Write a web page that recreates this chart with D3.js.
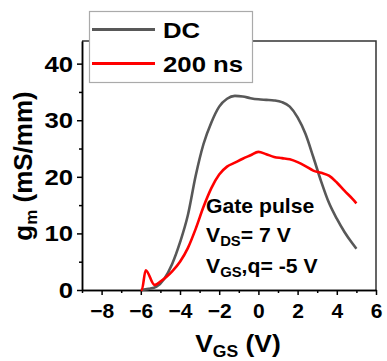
<!DOCTYPE html>
<html>
<head>
<meta charset="utf-8">
<script src="https://cdn.jsdelivr.net/npm/d3@7"></script>
<style>
  body { margin: 0; background: #fff; }
  text { font-family: "Liberation Sans", Arial, sans-serif; font-weight: bold; }
</style>
</head>
<body>
<div class="canva"></div>
<script>
// gm vs VGS, DC and 200 ns gate pulse
var vgsDC = [-6, -5.6, -5.2, -4.8, -4.4, -4.0, -3.6, -3.2, -2.8, -2.4, -2.0, -1.6, -1.2, -0.8, -0.4, 0, 0.4, 0.8, 1.2, 1.6, 2.0, 2.4, 2.8, 3.2, 3.6, 4.0, 4.4, 4.8, 5.0];
var gmDC = [0, 0.2, 0.6, 2.0, 4.6, 8.4, 13.2, 20.2, 25.8, 29.6, 32.4, 33.8, 34.3, 34.2, 33.9, 33.7, 33.6, 33.5, 33.2, 32.4, 30.5, 27.6, 23.5, 19.2, 15.4, 12.6, 10.2, 8.2, 7.3];

var vgsPulse = [-6, -5.95, -5.75, -5.3, -5.0, -4.7, -4.4, -4.0, -3.6, -3.2, -2.8, -2.4, -2.0, -1.6, -1.2, -0.8, -0.4, 0, 0.4, 0.8, 1.2, 1.6, 2.0, 2.4, 2.8, 3.2, 3.6, 4.0, 4.4, 4.8, 5.0];
var gmPulse = [0, 0, 3.5, 0.9, 1.5, 2.3, 3.3, 5.0, 7.4, 10.8, 14.7, 18.0, 20.4, 21.8, 22.5, 23.2, 23.8, 24.4, 24.0, 23.5, 23.3, 23.1, 22.6, 21.9, 21.1, 20.7, 20.2, 19.0, 17.5, 16.1, 15.3];

var xTicks = [-8, -6, -4, -2, 0, 2, 4, 6];
var xMinor = [-9, -7, -5, -3, -1, 1, 3, 5];
var yTicks = [0, 10, 20, 30, 40];
var yMinor = [5, 15, 25, 35];

var seriesNames = ['DC', '200 ns'];
var seriesColors = ['#585858', '#ff0000'];

const svg = d3.select('.canva').append('svg')
    .attr('width', 387)
    .attr('height', 361);

const x = d3.scaleLinear().domain([-9, 6]).range([82, 376]);
const y = d3.scaleLinear().domain([0, 44]).range([290, 41]);

// the original lettering is a bit wider than Liberation Sans, so stretch it
function wideText(parent, tx, ty, k) {
    return parent.append('g')
        .attr('transform', `translate(${tx},${ty}) scale(${k},1)`)
        .append('text');
}

// frame (top and right)
svg.append('path')
    .attr('d', `M${x(-9)},${y(44)}H${x(6)}V${y(0)}`)
    .attr('fill', 'none')
    .attr('stroke', '#333')
    .attr('stroke-width', 1.5);

// axes
svg.append('g')
    .attr('class', 'xaxis')
    .attr('transform', `translate(0,${y(0)})`)
    .call(d3.axisBottom(x).tickValues(xTicks).tickSize(5).tickSizeOuter(0).tickPadding(8));
svg.append('g')
    .attr('transform', `translate(0,${y(0)})`)
    .call(d3.axisBottom(x).tickValues(xMinor).tickSize(3).tickSizeOuter(0).tickFormat(''));

svg.append('g')
    .attr('class', 'yaxis')
    .attr('transform', `translate(${x(-9)},0)`)
    .call(d3.axisLeft(y).tickValues(yTicks).tickSize(5).tickSizeOuter(0).tickPadding(3));
svg.append('g')
    .attr('transform', `translate(${x(-9)},0)`)
    .call(d3.axisLeft(y).tickValues(yMinor).tickSize(3).tickSizeOuter(0).tickFormat(''));

svg.selectAll('.domain, .tick line').attr('stroke', '#000').attr('stroke-width', 1.5);
svg.selectAll('.tick text')
    .attr('font-family', '"Liberation Sans", Arial, sans-serif')
    .attr('font-weight', 'bold')
    .attr('fill', '#000');
svg.selectAll('.xaxis .tick text').attr('font-size', 21);
svg.selectAll('.yaxis .tick text')
    .attr('font-size', 23)
    .attr('transform', 'scale(1.12,1)');

// curves
const line = d3.line().curve(d3.curveMonotoneX);
const series = [
    d3.zip(vgsDC, gmDC),
    d3.zip(vgsPulse, gmPulse)
];
svg.selectAll('.curve')
    .data(series)
    .enter().append('path')
    .attr('class', 'curve')
    .attr('fill', 'none')
    .attr('stroke', (d, i) => seriesColors[i])
    .attr('stroke-width', 2.6)
    .attr('stroke-linejoin', 'round')
    .attr('d', d => line(d.map(p => [x(p[0]), y(p[1])])));

// legend
const legend = svg.append('g');
legend.append('rect')
    .attr('x', 89.5).attr('y', 11.5)
    .attr('width', 163).attr('height', 71)
    .attr('fill', '#fff')
    .attr('stroke', '#aaa')
    .attr('stroke-width', 1.2);
seriesNames.forEach((name, i) => {
    const ly = 29.5 + i * 34;
    legend.append('line')
        .attr('x1', 92).attr('x2', 155)
        .attr('y1', ly).attr('y2', ly)
        .attr('stroke', seriesColors[i])
        .attr('stroke-width', 3);
    wideText(legend, 163, ly + 8, 1.12)
        .attr('font-size', 23)
        .text(name);
});

// annotation
const note = svg.append('g').attr('font-size', 20);
wideText(note, 206, 213, 1.06).text('Gate pulse');
const t2 = wideText(note, 206, 242, 1.06);
t2.append('tspan').text('V');
t2.append('tspan').attr('font-size', 14).attr('dy', 4).text('DS');
t2.append('tspan').attr('dy', -4).text('= 7 V');
const t3 = wideText(note, 206, 273, 1.06);
t3.append('tspan').text('V');
t3.append('tspan').attr('font-size', 14).attr('dy', 4).text('GS');
t3.append('tspan').attr('dy', -4).text(',q= -5 V');

// axis titles
const xt = wideText(svg, 238, 352, 1.1)
    .attr('text-anchor', 'middle')
    .attr('font-size', 24);
xt.append('tspan').text('V');
xt.append('tspan').attr('font-size', 16).attr('dy', 5).text('GS');
xt.append('tspan').attr('dy', -5).text(' (V)');

const yt = svg.append('text')
    .attr('transform', 'translate(32,166) rotate(-90)')
    .attr('text-anchor', 'middle')
    .attr('font-size', 26);
yt.append('tspan').text('g');
yt.append('tspan').attr('font-size', 17).attr('dy', 5).text('m');
yt.append('tspan').attr('dy', -5).text(' (mS/mm)');
</script>
</body>
</html>
